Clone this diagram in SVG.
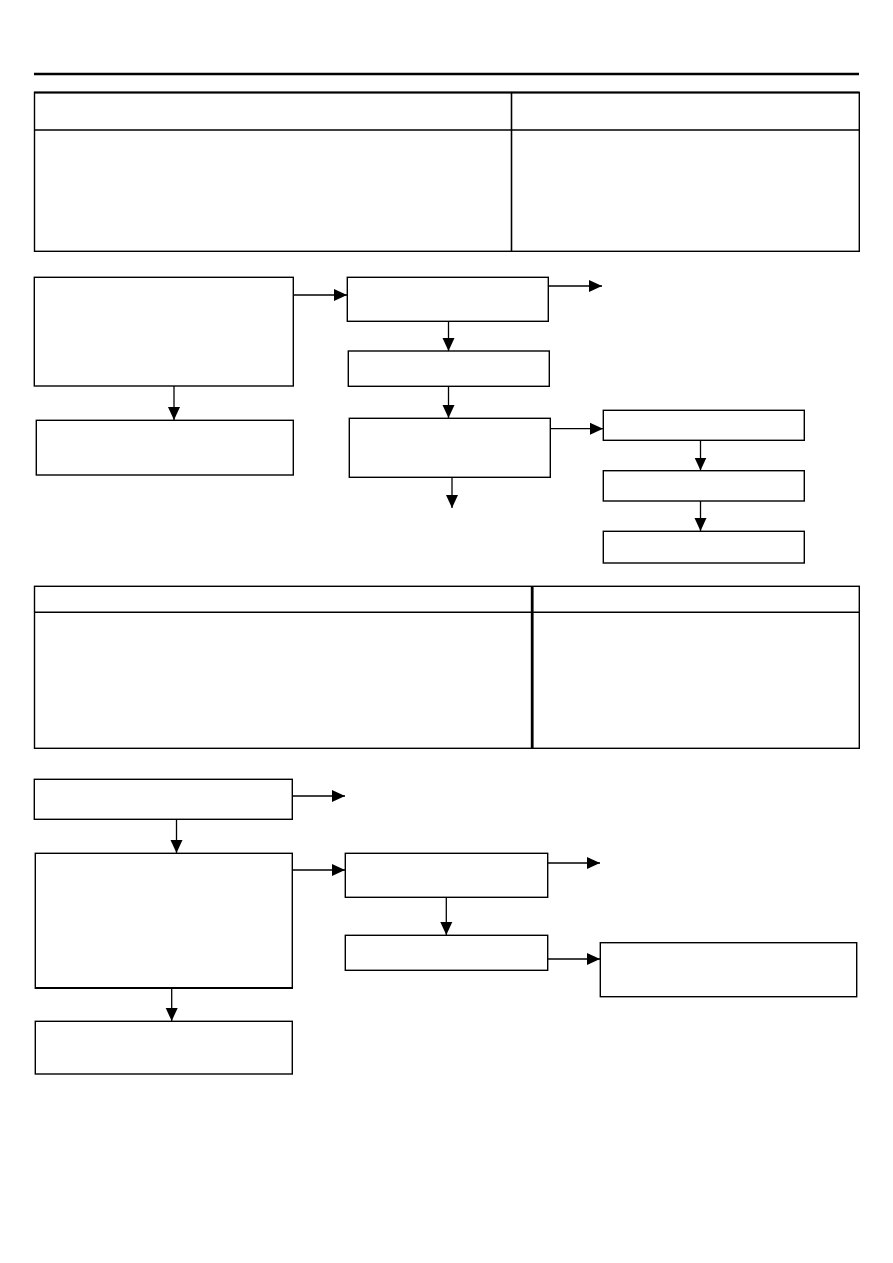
<svg xmlns="http://www.w3.org/2000/svg" width="893" height="1263" viewBox="0 0 893 1263">
<style>
.box{fill:#fff;stroke:#000;stroke-width:1.4}
.tbl{fill:none;stroke:#000;stroke-width:1.4}
.c{fill:none;stroke:#000;stroke-width:1.3}
</style>
<defs>
<marker id="ah" markerUnits="userSpaceOnUse" markerWidth="13" markerHeight="13" viewBox="0 0 13 13" refX="13" refY="6.5" orient="auto">
<path d="M0,0.5 L13,6.5 L0,12.5 Z" fill="#000"/>
</marker>
</defs>
<rect width="893" height="1263" fill="#fff"/>
<line x1="34" y1="74" x2="859" y2="74" stroke="#000" stroke-width="2.4"/>
<g id="table1">
<rect class="tbl" x="34.5" y="92.5" width="824.8" height="158.8"/>
<line x1="34" y1="92.5" x2="859.5" y2="92.5" stroke="#000" stroke-width="2.2"/>
<line class="tbl" x1="34.5" y1="130" x2="859.3" y2="130"/>
<line x1="511.5" y1="92.5" x2="511.5" y2="251.3" stroke="#000" stroke-width="1.6"/>
</g>
<g id="table2">
<rect class="tbl" x="34.5" y="586.3" width="824.8" height="162"/>
<line class="tbl" x1="34.5" y1="612.3" x2="859.3" y2="612.3"/>
<line x1="532.2" y1="586.3" x2="532.2" y2="748.3" stroke="#000" stroke-width="2.8"/>
</g>
<g id="nodeA"><rect class="box" x="34.3" y="277.3" width="259" height="108.7"/></g>
<g id="nodeB"><rect class="box" x="36.3" y="420.3" width="257" height="54.7"/></g>
<g id="nodeC"><rect class="box" x="347.3" y="277.3" width="201" height="44"/></g>
<g id="nodeD"><rect class="box" x="348.3" y="351" width="201" height="35.3"/></g>
<g id="nodeE"><rect class="box" x="349.3" y="418.3" width="201" height="59"/></g>
<g id="nodeF"><rect class="box" x="603.3" y="410.3" width="201" height="30"/></g>
<g id="nodeG"><rect class="box" x="603.3" y="470.7" width="201" height="30.3"/></g>
<g id="nodeH"><rect class="box" x="603.3" y="531.3" width="201" height="31.7"/></g>
<g id="nodeI"><rect class="box" x="34.3" y="779.3" width="258" height="40"/></g>
<g id="nodeJ"><rect class="box" x="35.3" y="853.3" width="257" height="135"/><line x1="35" y1="988" x2="293" y2="988" stroke="#000" stroke-width="2"/></g>
<g id="nodeK"><rect class="box" x="345.3" y="853.3" width="202.4" height="44"/></g>
<g id="nodeL"><rect class="box" x="345.3" y="935.3" width="202.4" height="35"/></g>
<g id="nodeM"><rect class="box" x="600.3" y="942.7" width="256.4" height="54"/></g>
<g id="nodeN"><rect class="box" x="35.3" y="1021.3" width="257" height="52.7"/></g>
<g id="connectors">
<line class="c" x1="174" y1="386" x2="174" y2="420" marker-end="url(#ah)"/>
<line class="c" x1="293.3" y1="295" x2="347" y2="295" marker-end="url(#ah)"/>
<line class="c" x1="548.3" y1="286" x2="602" y2="286" marker-end="url(#ah)"/>
<line class="c" x1="448.5" y1="321.3" x2="448.5" y2="351" marker-end="url(#ah)"/>
<line class="c" x1="448.5" y1="386.3" x2="448.5" y2="418" marker-end="url(#ah)"/>
<line class="c" x1="452" y1="477.3" x2="452" y2="508" marker-end="url(#ah)"/>
<line class="c" x1="550.3" y1="428.7" x2="603" y2="428.7" marker-end="url(#ah)"/>
<line class="c" x1="700.5" y1="440.3" x2="700.5" y2="470.5" marker-end="url(#ah)"/>
<line class="c" x1="700.5" y1="501" x2="700.5" y2="531" marker-end="url(#ah)"/>
<line class="c" x1="292.3" y1="796" x2="345" y2="796" marker-end="url(#ah)"/>
<line class="c" x1="176.5" y1="819.3" x2="176.5" y2="853" marker-end="url(#ah)"/>
<line class="c" x1="292.3" y1="870" x2="345" y2="870" marker-end="url(#ah)"/>
<line class="c" x1="446.3" y1="897.3" x2="446.3" y2="935" marker-end="url(#ah)"/>
<line class="c" x1="547.7" y1="863" x2="600" y2="863" marker-end="url(#ah)"/>
<line class="c" x1="547.7" y1="959" x2="600" y2="959" marker-end="url(#ah)"/>
<line class="c" x1="171.7" y1="988" x2="171.7" y2="1021" marker-end="url(#ah)"/>
</g>
</svg>
